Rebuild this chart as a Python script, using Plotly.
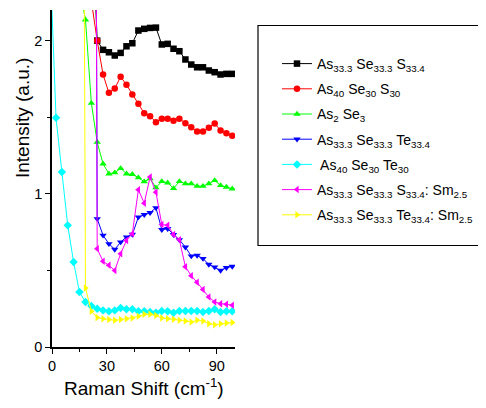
import plotly.graph_objects as go

# Shared Raman shift grid (cm^-1)
X = [-1.0, 2.2, 5.4, 8.6, 11.8, 15.0, 18.3, 21.5, 24.7, 27.9, 31.1, 34.3, 37.5, 40.7,
     43.9, 47.2, 50.4, 53.6, 56.8, 60.0, 63.2, 66.4, 69.6, 72.9, 76.1, 79.3, 82.5,
     85.7, 88.9, 92.1, 95.3, 98.5]

# Series (start index into X, values)
black_start = 7
black_y = [2.9, 2.0, 1.94, 1.924, 1.903, 1.92, 1.963, 1.983, 2.066, 2.077, 2.083, 2.085,
           1.975, 1.979, 1.947, 1.931, 1.877, 1.844, 1.826, 1.826, 1.805, 1.794, 1.779,
           1.783, 1.783]
red_start = 7
red_y = [2.26, 2.0, 1.779, 1.659, 1.688, 1.764, 1.712, 1.648, 1.588, 1.526, 1.507, 1.468,
         1.49, 1.49, 1.477, 1.49, 1.461, 1.435, 1.407, 1.407, 1.431, 1.459, 1.414, 1.396,
         1.379]
green_start = 5
green_y = [2.35, 2.136, 1.592, 1.337, 1.196, 1.131, 1.138, 1.166, 1.131, 1.127, 1.105,
           1.079, 1.1, 1.04, 1.081, 1.072, 1.035, 1.081, 1.066, 1.066, 1.05, 1.05, 1.066,
           1.087, 1.055, 1.044, 1.033]
blue_start = 7
blue_y = [12.0, 0.837, 0.729, 0.674, 0.637, 0.685, 0.718, 0.735, 0.848, 0.864, 0.877,
          0.909, 0.766, 0.772, 0.733, 0.70, 0.652, 0.594, 0.598, 0.577, 0.539, 0.522,
          0.50, 0.518, 0.526]
cyan_start = 0
cyan_y = [2.52, 1.496, 1.142, 0.794, 0.555, 0.359, 0.294, 0.267, 0.25, 0.239, 0.233,
          0.239, 0.254, 0.246, 0.246, 0.233, 0.233, 0.228, 0.224, 0.235, 0.233, 0.224,
          0.235, 0.235, 0.235, 0.235, 0.228, 0.235, 0.246, 0.228, 0.233, 0.233]
magenta_start = 7
magenta_y = [12.0, 0.642, 0.559, 0.533, 0.50, 0.609, 0.696, 0.74, 1.027, 0.939, 1.109,
             1.01, 0.80, 0.794, 0.735, 0.70, 0.524, 0.465, 0.422, 0.375, 0.326, 0.294,
             0.283, 0.279, 0.272]
yellow_start = 5
yellow_y = [10.0, 0.385, 0.233, 0.192, 0.185, 0.179, 0.174, 0.179, 0.185, 0.189, 0.2,
            0.213, 0.213, 0.205, 0.189, 0.185, 0.181, 0.174, 0.17, 0.163, 0.174, 0.17,
            0.152, 0.146, 0.152, 0.157, 0.16]

names = [
    "As<sub>33.3</sub> Se<sub>33.3</sub> S<sub>33.4</sub>",
    "As<sub>40</sub> Se<sub>30</sub> S<sub>30</sub>",
    "As<sub>2</sub> Se<sub>3</sub>",
    "As<sub>33.3</sub> Se<sub>33.3</sub> Te<sub>33.4</sub>",
    " As<sub>40</sub> Se<sub>30</sub> Te<sub>30</sub>",
    "As<sub>33.3</sub> Se<sub>33.3</sub> S<sub>33.4</sub>: Sm<sub>2.5</sub>",
    "As<sub>33.3</sub> Se<sub>33.3</sub> Te<sub>33.4</sub>: Sm<sub>2.5</sub>",
]
colors = ["#000000", "#FF0000", "#00FF00", "#0000FF", "#00FFFF", "#FF00FF", "#FFFF00"]
symbols = ["square", "circle", "triangle-up", "triangle-down", "diamond",
           "triangle-left", "triangle-right"]
series = [(black_start, black_y), (red_start, red_y), (green_start, green_y),
          (blue_start, blue_y), (cyan_start, cyan_y), (magenta_start, magenta_y),
          (yellow_start, yellow_y)]

fig = go.Figure()
for i, (start, ys) in enumerate(series):
    xs = X[start:start + len(ys)]
    fig.add_trace(go.Scatter(
        x=xs, y=ys, mode="lines+markers", name=names[i],
        legendgroup="g%d" % i,
        line=dict(color=colors[i], width=1),
        marker=dict(color=colors[i], symbol=symbols[i], size=6.5),
    ))

font = "Liberation Sans, Arial, sans-serif"
# page body has an 8px margin: figure coords = screen coords - 8
W, H = 478, 400
L, T, PW, PH = 44, 2, 183, 337
fig.update_layout(
    width=W, height=H,
    margin=dict(l=L, r=W - L - PW, t=T, b=H - T - PH, autoexpand=False),
    paper_bgcolor="white", plot_bgcolor="white",
    font=dict(family=font, size=14, color="black"),
    showlegend=True,
    legend=dict(
        x=(269 - L) / PW, xanchor="left",
        y=1 - (40 - T) / PH, yanchor="top",
        font=dict(family=font, size=14, color="black"),
        bgcolor="rgba(0,0,0,0)", borderwidth=0,
        tracegroupgap=4, traceorder="grouped",
        itemwidth=30,
    ),
    xaxis=dict(
        range=[0, 100], showgrid=False, zeroline=False, automargin=False,
        showline=True, linecolor="black", linewidth=1.5,
        ticks="outside", ticklen=5, tickwidth=1.2, tickcolor="black",
        tickvals=[0, 30, 60, 90],
        minor=dict(tickvals=[15, 45, 75], ticks="outside", ticklen=3,
                   tickcolor="black", tickwidth=1.2),
        tickfont=dict(size=14.5),
    ),
    yaxis=dict(
        range=[0, 2.2], showgrid=False, zeroline=False, automargin=False,
        showline=True, linecolor="black", linewidth=1.5,
        ticks="outside", ticklen=5, tickwidth=1.2, tickcolor="black",
        tickvals=[0, 1, 2],
        minor=dict(tickvals=[0.5, 1.5], ticks="outside", ticklen=3,
                   tickcolor="black", tickwidth=1.2),
        tickfont=dict(size=14.5),
    ),
)

# Axis titles
fig.add_annotation(text="Raman Shift (cm<sup>-1</sup>)", xref="paper", yref="paper",
                   x=0.5, y=-(379 - (T + PH)) / PH, xanchor="center", yanchor="middle",
                   showarrow=False, font=dict(family=font, size=19, color="black"))
fig.add_annotation(text="Intensity (a.u.)", xref="paper", yref="paper",
                   x=(15 - L) / PW, y=1 - (110 - T) / PH, xanchor="center",
                   yanchor="middle", textangle=-90,
                   showarrow=False, font=dict(family=font, size=19, color="black"))

# Legend frame
fig.add_shape(type="rect", xref="paper", yref="paper",
              x0=(250 - L) / PW, x1=(484 - L) / PW,
              y0=(T + PH - 237.5) / PH, y1=(T + PH - 17.5) / PH,
              line=dict(color="black", width=1.2), fillcolor="rgba(0,0,0,0)")

fig.write_html("out.html")
